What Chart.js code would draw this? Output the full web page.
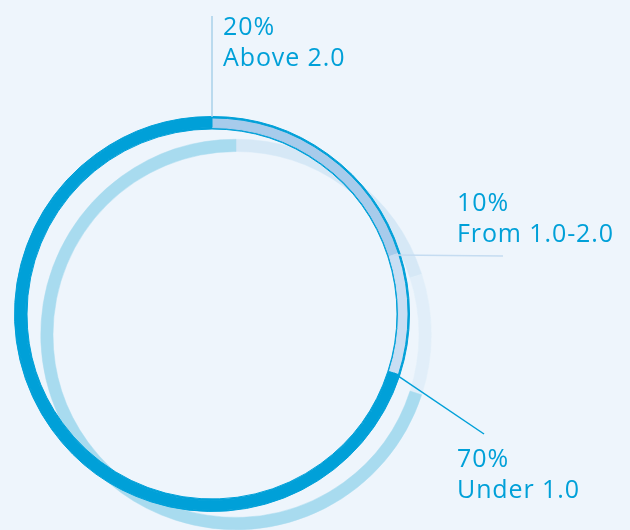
<!DOCTYPE html>
<html>
<head>
<meta charset="utf-8">
<script src="https://cdn.jsdelivr.net/npm/chart.js@4.4.1/dist/chart.umd.min.js"></script>
<style>
  html, body { margin: 0; padding: 0; background: #eef5fc; }
  #wrap { position: relative; width: 630px; height: 530px; overflow: hidden; }
  #wrap canvas { position: absolute; left: 0; top: 0; }
</style>
</head>
<body>
<div id="wrap">
  <canvas id="shadowRing" width="630" height="530"></canvas>
  <canvas id="mainRing" width="630" height="530"></canvas>
</div>
<script>
// =============================
// DATA
// =============================
const categories = ["Above 2.0", "From 1.0-2.0", "Under 1.0"];
const shares = [20, 10, 70];
const shareLabels = ["20%", "10%", "70%"];

// =============================
// STYLE
// =============================
const darkBlue = "#00a0d8";
const segColors = ["#a7cbeb", "#c9def3", darkBlue];
const shadowColors = ["#d6e8f6", "#e1eef9", "#a8dbef"];
const leaderColors = ["#a8d0ea", "#c5dcf1", darkBlue];

// where each leader line ends and where its text sits
const labelSpots = [
  { lx: 212, ly: 16,  tx: 223, ty: 35 },
  { lx: 503, ly: 256, tx: 457, ty: 211 },
  { lx: 484, ly: 434, tx: 457, ty: 467 }
];

// leader lines + labels
const labelPlugin = {
  id: "labelPlugin",
  afterDatasetsDraw(chart) {
    let ctx = chart.ctx;
    let meta = chart.getDatasetMeta(1);
    ctx.save();
    meta.data.forEach(function (arc, i) {
      let p = arc.getProps(["x", "y", "startAngle", "innerRadius", "outerRadius"], true);
      let r = (p.innerRadius + p.outerRadius) / 2;
      if (i === 0) r = p.outerRadius + 1;
      let sx = p.x + Math.cos(p.startAngle) * r;
      let sy = p.y + Math.sin(p.startAngle) * r;
      let spot = labelSpots[i];
      ctx.beginPath();
      ctx.strokeStyle = leaderColors[i];
      ctx.lineWidth = 1.5;
      ctx.moveTo(sx, sy);
      ctx.lineTo(i === 0 ? sx : spot.lx, spot.ly);
      ctx.stroke();

      ctx.fillStyle = darkBlue;
      ctx.font = "400 25px 'Open Sans'";
      ctx.letterSpacing = "0.9px";
      ctx.textAlign = "left";
      ctx.textBaseline = "alphabetic";
      ctx.fillText(shareLabels[i], spot.tx, spot.ty);
      ctx.fillText(categories[i], spot.tx, spot.ty + 31);
    });
    ctx.restore();
  }
};

const commonOptions = {
  responsive: false,
  animation: false,
  events: [],
  plugins: { legend: { display: false }, tooltip: { enabled: false } }
};

// =============================
// SHADOW RING (offset, behind)
// =============================
new Chart(document.getElementById("shadowRing"), {
  type: "doughnut",
  data: {
    labels: categories,
    datasets: [{
      data: shares,
      backgroundColor: shadowColors,
      borderColor: shadowColors,
      borderWidth: 0.5
    }]
  },
  options: Object.assign({}, commonOptions, {
    cutout: 183,
    layout: { padding: { left: 40, top: 139, right: 198, bottom: 0 } }
  })
});

// =============================
// MAIN RING
// =============================
new Chart(document.getElementById("mainRing"), {
  type: "doughnut",
  data: {
    labels: categories,
    datasets: [
      { data: shares, backgroundColor: [darkBlue, darkBlue, darkBlue], borderColor: darkBlue, borderWidth: 1, weight: 1.5 },
      { data: shares, backgroundColor: segColors, borderColor: segColors, borderWidth: 1, weight: 10 },
      { data: shares, backgroundColor: [darkBlue, darkBlue, darkBlue], borderColor: darkBlue, borderWidth: 1, weight: 1.5 }
    ]
  },
  options: Object.assign({}, commonOptions, {
    cutout: 185,
    layout: { padding: { left: 14, top: 116, right: 220, bottom: 18 } }
  }),
  plugins: [labelPlugin]
});
</script>
</body>
</html>
